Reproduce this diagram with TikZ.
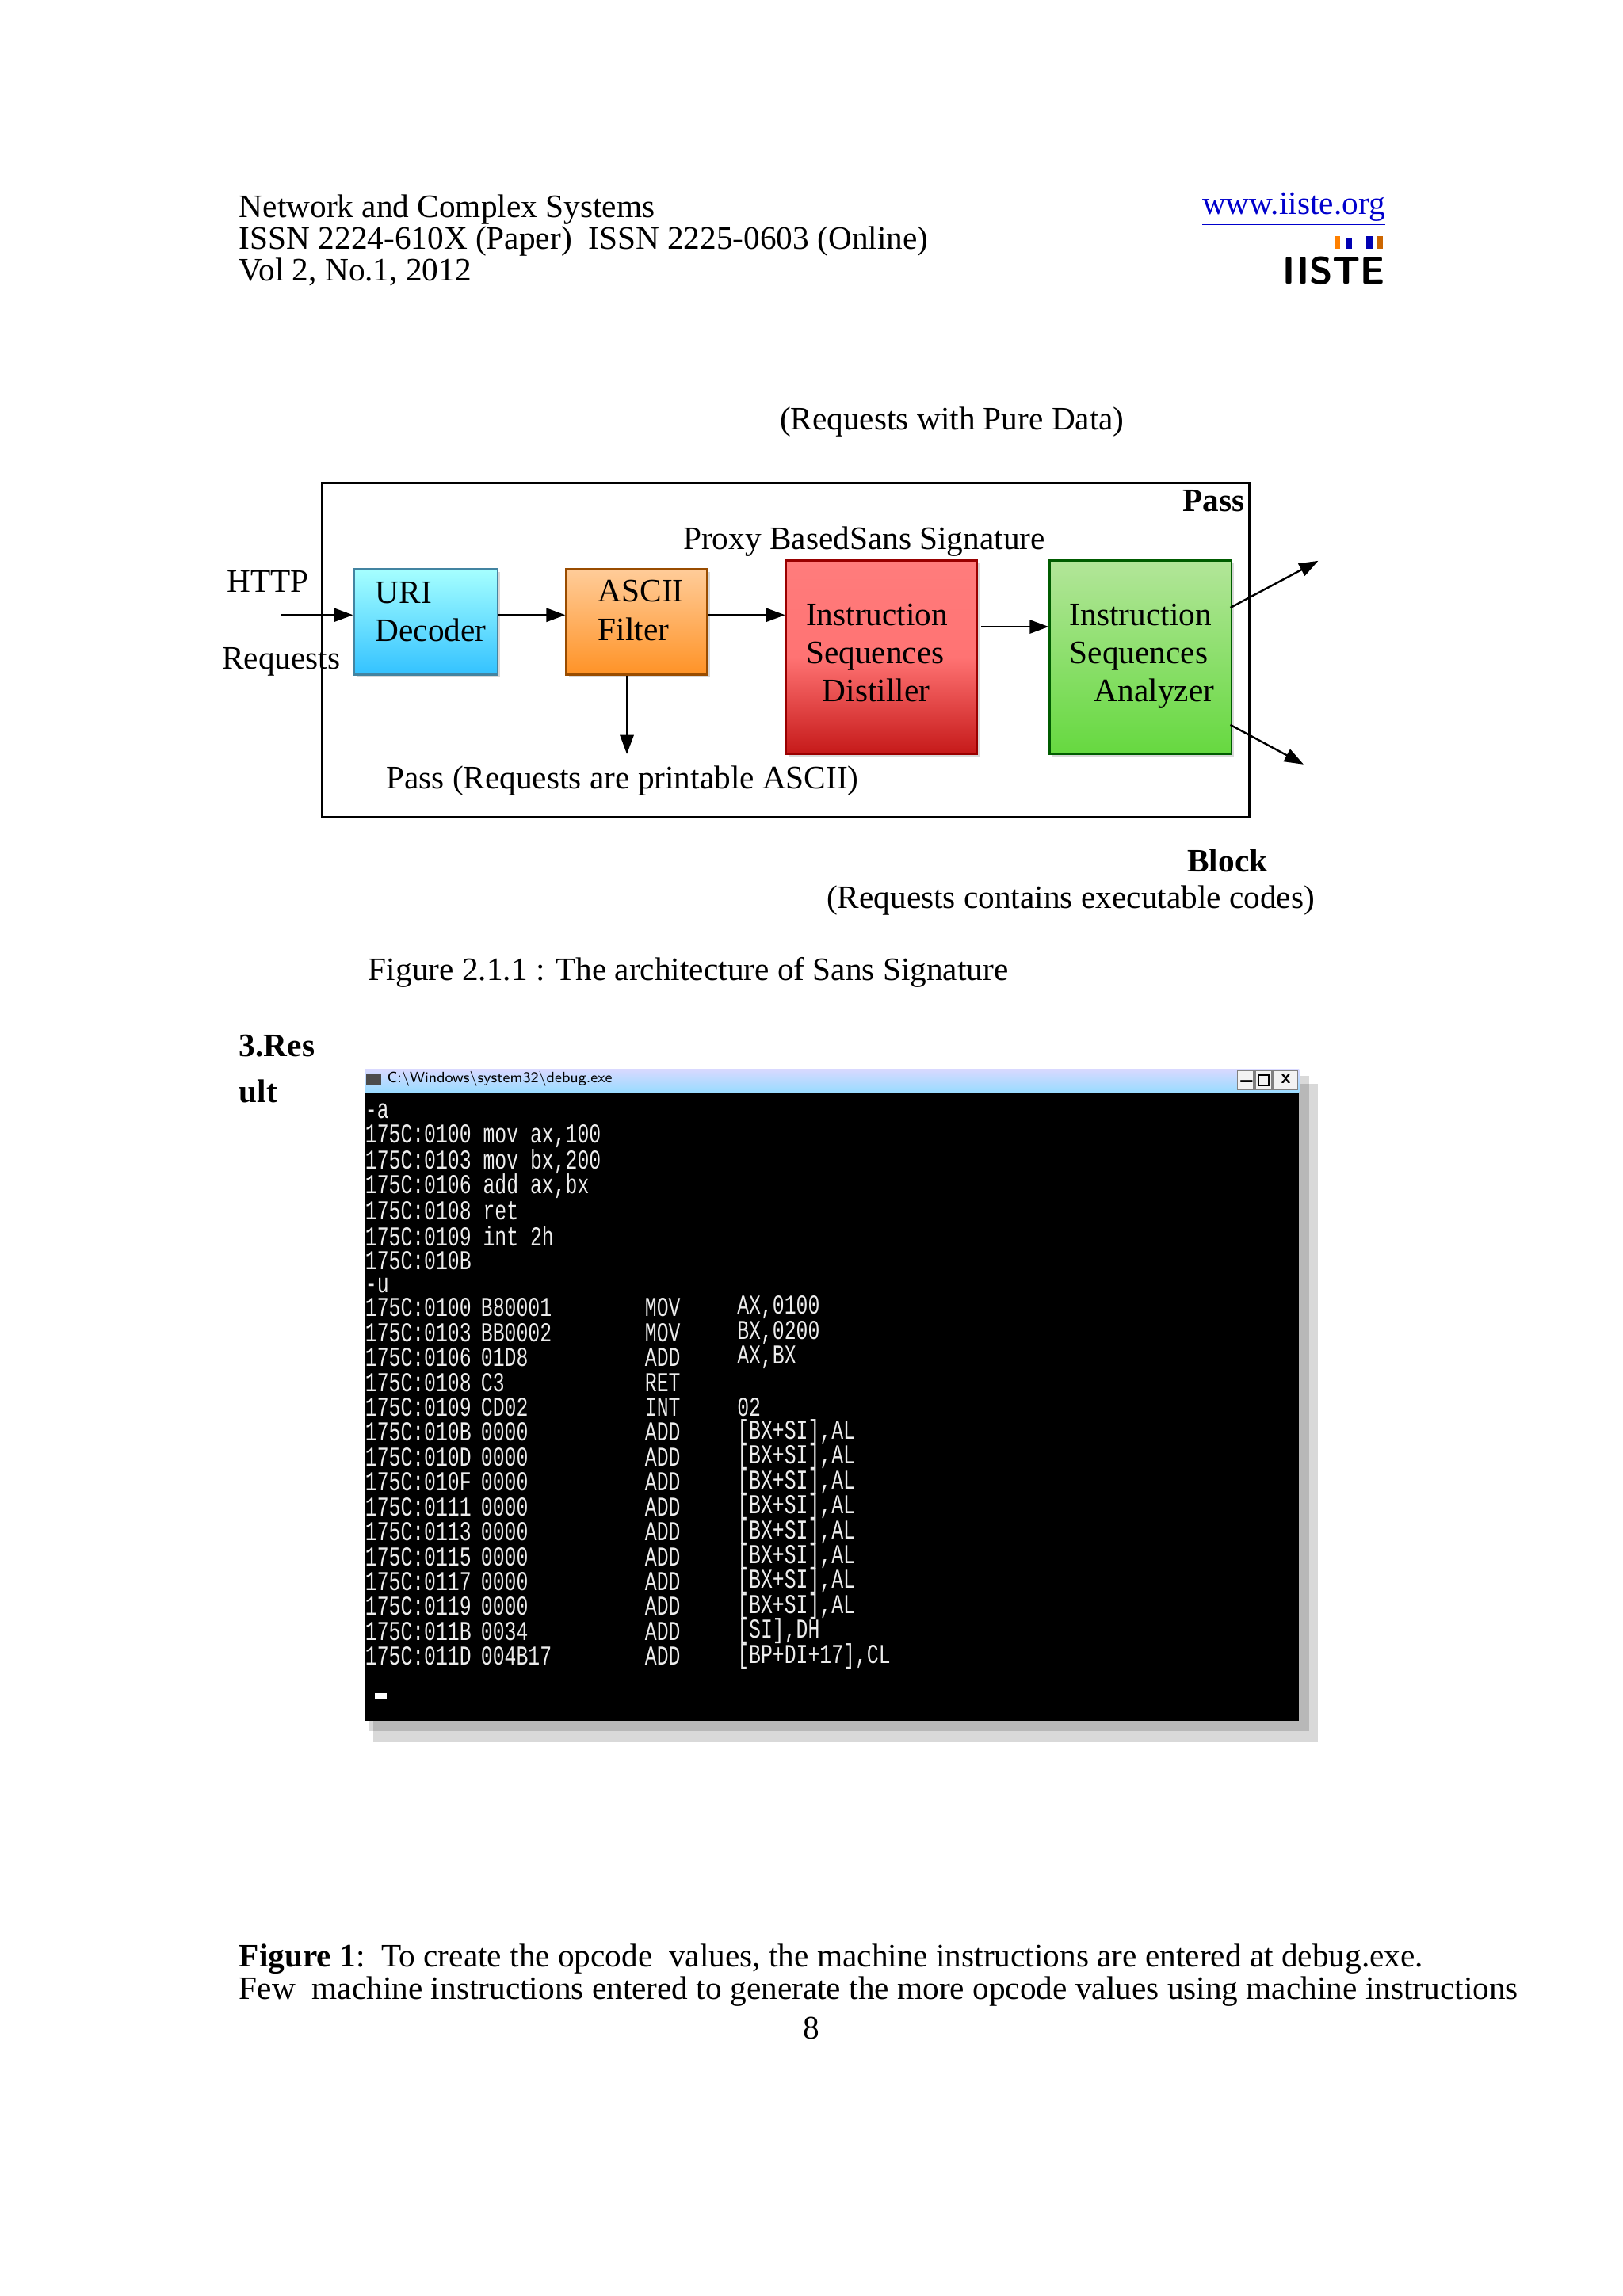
\documentclass[tikz,border=0pt]{standalone}
\usepackage{fontspec}
\setmainfont{Liberation Serif}
\setmonofont{Liberation Mono}
\usetikzlibrary{arrows.meta,shadows}
\begin{document}
\begin{tikzpicture}[x=0.537pt,y=-0.537pt,
  txt/.style={font=\fontsize{12}{14}\selectfont, inner sep=0pt},
  arr/.style={-{Triangle[length=7pt,width=5pt]}, line width=0.7pt},
  blk/.style={draw=#1!60!black, line width=0.8pt, align=left, font=\fontsize{12}{14}\selectfont, inner sep=0pt},
  term/.style={font=\ttfamily\fontsize{10}{10}\selectfont, text=white!85!gray, inner sep=0pt, anchor=west}]
\useasboundingbox (0,0) rectangle (1108,1568);
\fill[white] (0,0) rectangle (1108,1568);
% header
\node[txt,anchor=west] (h1) at (163,143) {Network and Complex Systems};
\node[txt,anchor=west] (h2) at (163,165) {ISSN 2224-610X (Paper)\ \ ISSN 2225-0603 (Online)};
\node[txt,anchor=west] (h3) at (163,186) {Vol 2, No.1, 2012};
\node[txt,anchor=east,text=blue!80!black] (url) at (946,143) {\underline{www.iiste.org}};
\node[inner sep=0pt,anchor=east,font=\bfseries\sffamily\fontsize{14}{14}\selectfont] (logo) at (946,185) {IISTE};
\fill[orange] (911,161) rectangle (915,170); \fill[blue!70!black] (919,163) rectangle (923,170);
\fill[blue!70!black] (933,161) rectangle (937,170); \fill[orange!80!black] (940,161) rectangle (944,170);
% diagram
\node[txt] (pure) at (650,288) {(Requests with Pure Data)};
\draw[line width=0.8pt] (220,330) rectangle (853,558);
\node[txt,anchor=east,font=\bfseries\fontsize{12}{14}\selectfont] (pass) at (850,342) {Pass};
\node[txt] (proxy) at (590,370) {Proxy BasedSans Signature};
\node[txt] (http) at (183,397) {HTTP};
\node[txt] (req) at (192,452) {Requests};
\coordinate (in) at (192,420);
\node[blk=cyan, top color=cyan!35, bottom color=cyan!70!blue!80, minimum width=98*0.537pt, minimum height=72*0.537pt, anchor=north west, drop shadow={opacity=0.3,shadow xshift=1pt,shadow yshift=-1pt}] (uri) at (241,388) {};
\node[txt,align=left,anchor=north west] at (256,397) {URI\\Decoder};
\node[blk=orange, top color=orange!40, bottom color=orange!85, minimum width=96*0.537pt, minimum height=72*0.537pt, anchor=north west, drop shadow={opacity=0.3,shadow xshift=1pt,shadow yshift=-1pt}] (ascii) at (386,388) {};
\node[txt,align=left,anchor=north west] at (408,396) {ASCII\\Filter};
\node[blk=red, top color=red!35!pink, bottom color=red!75!black!90, middle color=red!55, minimum width=130*0.537pt, minimum height=132*0.537pt, anchor=north west, drop shadow={opacity=0.3,shadow xshift=1pt,shadow yshift=-1pt}] (dist) at (536,382) {};
\node[txt,align=left,anchor=north west] at (550,412) {Instruction\\Sequences\\\ \ Distiller};
\node[blk=green!60!black, top color=green!50!olive!40, bottom color=green!60!olive!75, minimum width=124*0.537pt, minimum height=132*0.537pt, anchor=north west, drop shadow={opacity=0.3,shadow xshift=1pt,shadow yshift=-1pt}] (ana) at (716,382) {};
\node[txt,align=left,anchor=north west] at (730,412) {Instruction\\Sequences\\\ \ \ Analyzer};
\draw[arr] (in) -- (uri.west|-in);
\draw[arr] (uri.east|-in) -- (ascii.west|-in);
\draw[arr] (ascii.east|-in) -- (dist.west|-in);
\coordinate (m1) at (670,428);
\draw[arr] (m1) -- (ana.west|-m1);
\coordinate (o1) at (900,383); \coordinate (o2) at (890,522);
\draw[arr] (840,415) -- (o1);
\draw[arr] (840,495) -- (o2);
\coordinate (pd) at (428,515);
\draw[arr] (ascii.south-|pd) -- (pd);
\node[txt] (pa) at (425,533) {Pass (Requests are printable ASCII)};
\node[txt,font=\bfseries\fontsize{12}{14}\selectfont] (block) at (838,588) {Block};
\node[txt] (exe) at (731,615) {(Requests contains executable codes)};
\node[txt] (cap) at (470,664) {Figure 2.1.1 : The architecture of Sans Signature};
\node[txt,anchor=west,font=\bfseries\fontsize{12}{14}\selectfont] (res) at (163,714) {3.Res};
\node[txt,anchor=west,font=\bfseries\fontsize{12}{14}\selectfont] (ult) at (163,745) {ult};
% terminal
\fill[black,opacity=0.15] (255,740) rectangle (900,1190);
\fill[black,opacity=0.15] (252,735) rectangle (894,1182);
\fill[black] (249,730) rectangle (887,1175);
\shade[top color=blue!15, bottom color=blue!35!cyan!40] (249,730) rectangle (887,746);
\node[anchor=west,inner sep=0pt,font=\sffamily\fontsize{5.5}{6}\selectfont] (tt) at (264,737) {C:\textbackslash Windows\textbackslash system32\textbackslash debug.exe};
\fill[black!70] (250,733) rectangle (260,741);
\draw[gray,fill=white!90!gray] (845,731) rectangle (856,744) (857,731) rectangle (868,744) (869,731) rectangle (886,744);
\node[inner sep=0pt,font=\sffamily\bfseries\fontsize{6}{6}\selectfont] at (851,738) {\_};
\draw[black,line width=0.6pt] (859,734) rectangle (866,741);
\node[inner sep=0pt,font=\sffamily\bfseries\fontsize{7}{7}\selectfont] at (878,737) {x};
\newcommand{\tl}[1]{\scalebox{0.72}[1]{#1}}
\foreach \i/\t in {0/{-a},1/{175C:0100 mov ax,100},2/{175C:0103 mov bx,200},3/{175C:0106 add ax,bx},4/{175C:0108 ret},5/{175C:0109 int 2h},6/{175C:010B},7/{-u}}
  \node[term] at (249,759+17*\i) {\tl{\t}};
\foreach \i/\a/\b/\c/\d in {0/0100/B80001/MOV/{AX,0100},1/0103/BB0002/MOV/{BX,0200},2/0106/01D8/ADD/{AX,BX},3/0108/C3/RET/{},4/0109/CD02/INT/{02},5/010B/0000/ADD/{[BX+SI],AL},6/010D/0000/ADD/{[BX+SI],AL},7/010F/0000/ADD/{[BX+SI],AL},8/0111/0000/ADD/{[BX+SI],AL},9/0113/0000/ADD/{[BX+SI],AL},10/0115/0000/ADD/{[BX+SI],AL},11/0117/0000/ADD/{[BX+SI],AL},12/0119/0000/ADD/{[BX+SI],AL},13/011B/0034/ADD/{[SI],DH},14/011D/004B17/ADD/{[BP+DI+17],CL}}{
  \node[term] at (249,893+17*\i) {\tl{175C:\a}};
  \node[term] at (328,893+17*\i) {\tl{\b}};
  \node[term] at (440,893+17*\i) {\tl{\c}};
  \node[term] at (503,893+17*\i) {\tl{\d}};
}
\fill[white] (256,1156) rectangle (264,1160);
% bottom caption
\node[txt,anchor=west] (f1) at (163,1338) {\textbf{Figure 1}:\ \ To create the opcode\ \ values, the machine instructions are entered at debug.exe.};
\node[txt,anchor=west] (f2) at (163,1360) {Few\ \ machine instructions entered to generate the more opcode values using machine instructions};
\node[txt] (pg) at (554,1385) {8};
\end{tikzpicture}
\end{document}
